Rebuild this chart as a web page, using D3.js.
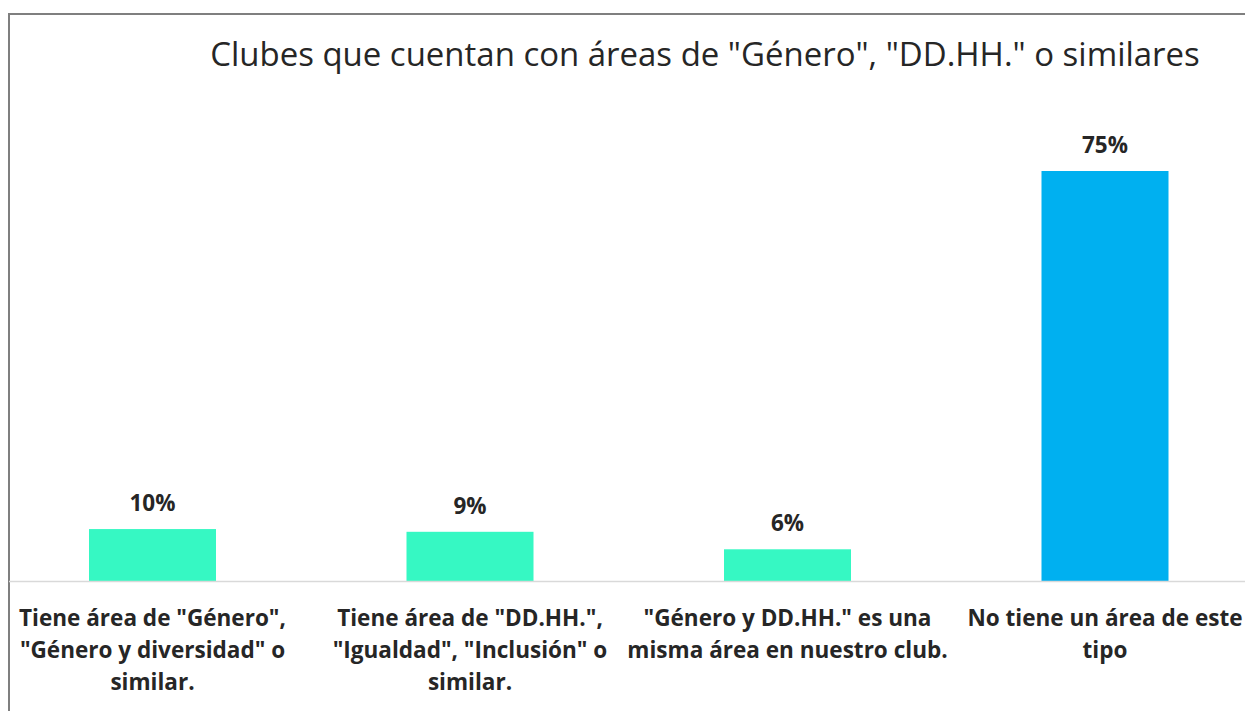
<!DOCTYPE html>
<html>
<head>
<meta charset="utf-8">
<script src="https://cdn.jsdelivr.net/npm/d3@7"></script>
<style>
  body { margin: 0; background: #fff; }
  svg { display: block; }
</style>
</head>
<body>
<svg class="chart"></svg>
<script>
const title = 'Clubes que cuentan con áreas de "Género", "DD.HH." o similares'
const categories = [
  ['Tiene área de "Género",', '"Género y diversidad" o', 'similar.'],
  ['Tiene área de "DD.HH.",', '"Igualdad", "Inclusión" o', 'similar.'],
  ['"Género y DD.HH." es una', 'misma área en nuestro club.'],
  ['No tiene un área de este', 'tipo']
]
const values = [0.095, 0.09, 0.058, 0.75]
const barColors = ['#36f8c3', '#36f8c3', '#36f8c3', '#00b0f0']

let W = 1245, H = 711,
    svg = d3.select('.chart').attr('width', W).attr('height', H),
    font = '"Open Sans", "Noto Sans", sans-serif',
    baseY = 581

// size a font so a sample string gets a given width
function fitSize(str, weight, target) {
  let tmp = svg.append('text')
    .style('font-family', font)
    .style('font-weight', weight)
    .style('font-size', '20px')
    .text(str)
  let w = tmp.node().getComputedTextLength()
  tmp.remove()
  return 20 * target / w
}

// frame of the chart area (cut off at right and bottom)
svg.append('path')
  .attr('d', 'M9,' + H + ' V14 H' + W)
  .attr('fill', 'none')
  .attr('stroke', '#7f7f7f')
  .attr('stroke-width', 2)

let x = d3.scaleBand()
  .domain(d3.range(categories.length))
  .range([-6.25, 1263.75])
  .paddingInner(0.6)
  .paddingOuter(0.3)

let y = d3.scaleLinear()
  .domain([0, 0.75])
  .range([baseY, 171])

let pct = d3.format('.0%')

svg.selectAll('rect.bar')
  .data(values)
  .enter()
  .append('rect')
  .attr('class', 'bar')
  .attr('x', (d, i) => x(i))
  .attr('width', x.bandwidth())
  .attr('y', d => y(d))
  .attr('height', d => baseY - y(d))
  .attr('fill', (d, i) => barColors[i])

// category axis line
svg.append('line')
  .attr('x1', 9).attr('x2', W)
  .attr('y1', baseY + 0.5).attr('y2', baseY + 0.5)
  .attr('stroke', '#d9d9d9')
  .attr('stroke-width', 1.5)

let valSize = fitSize('10%', 'bold', 46)
svg.selectAll('text.val')
  .data(values)
  .enter()
  .append('text')
  .attr('class', 'val')
  .attr('x', (d, i) => x(i) + x.bandwidth() / 2)
  .attr('y', d => y(d) - 18)
  .attr('text-anchor', 'middle')
  .style('font-family', font)
  .style('font-weight', 'bold')
  .style('font-size', valSize + 'px')
  .attr('fill', '#262626')
  .text(d => pct(d))

let catSize = fitSize(categories[0][0], 'bold', 267)
let cat = svg.selectAll('text.cat')
  .data(categories)
  .enter()
  .append('text')
  .attr('class', 'cat')
  .attr('text-anchor', 'middle')
  .style('font-family', font)
  .style('font-weight', 'bold')
  .style('font-size', catSize + 'px')
  .attr('fill', '#262626')

cat.selectAll('tspan')
  .data((d, i) => d.map(t => ({t: t, i: i})))
  .enter()
  .append('tspan')
  .attr('x', d => x(d.i) + x.bandwidth() / 2)
  .attr('y', (d, j) => 626 + j * 32)
  .text(d => d.t)

svg.append('text')
  .attr('x', 705)
  .attr('y', 66)
  .attr('text-anchor', 'middle')
  .style('font-family', font)
  .style('font-size', fitSize(title, 'normal', 990) + 'px')
  .attr('fill', '#262626')
  .text(title)
</script>
</body>
</html>
